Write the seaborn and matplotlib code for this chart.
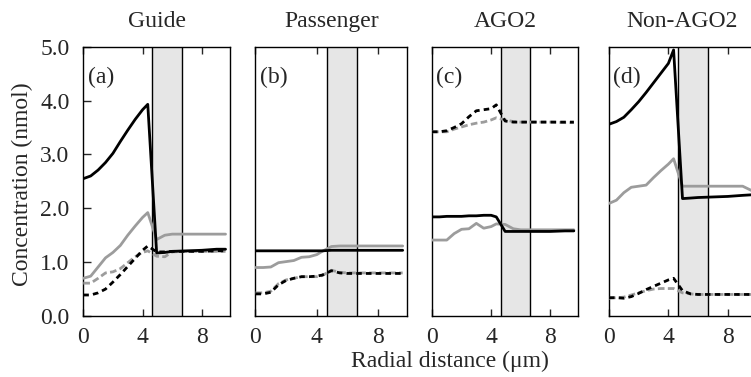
import numpy as np
import pandas as pd
import matplotlib
matplotlib.use("Agg")
import matplotlib.pyplot as plt
import seaborn as sns

# ---- data ----
radial = [0, 0.5, 1.0, 1.5, 2.0, 2.5, 3.0, 3.5, 4.0, 4.35, 4.95, 5.5, 6.0, 7.0, 8.0, 9.0, 9.6]
panel_titles = ["Guide", "Passenger", "AGO2", "Non-AGO2"]
panel_tags = ["(a)", "(b)", "(c)", "(d)"]
x_ticks = [0, 4, 8]
y_ticks = [0.0, 1.0, 2.0, 3.0, 4.0, 5.0]
shade_span = (4.65, 6.65)

guide_black_solid = [2.55, 2.60, 2.71, 2.85, 3.02, 3.24, 3.45, 3.65, 3.83, 3.93, 1.17, 1.18, 1.20, 1.21, 1.22, 1.24, 1.24]
guide_gray_solid = [0.70, 0.74, 0.91, 1.08, 1.18, 1.31, 1.50, 1.67, 1.83, 1.92, 1.42, 1.50, 1.52, 1.52, 1.52, 1.52, 1.52]
guide_black_dash = [0.39, 0.39, 0.43, 0.50, 0.63, 0.77, 0.92, 1.07, 1.22, 1.30, 1.19, 1.19, 1.20, 1.20, 1.20, 1.21, 1.21]
guide_gray_dash = [0.61, 0.61, 0.70, 0.80, 0.82, 0.88, 0.99, 1.10, 1.18, 1.21, 1.11, 1.10, 1.19, 1.20, 1.20, 1.20, 1.20]

pass_black_solid = [1.21, 1.21, 1.21, 1.21, 1.21, 1.21, 1.21, 1.21, 1.21, 1.21, 1.22, 1.22, 1.22, 1.22, 1.22, 1.22, 1.22]
pass_gray_solid = [0.90, 0.90, 0.91, 0.99, 1.01, 1.03, 1.09, 1.10, 1.14, 1.20, 1.29, 1.30, 1.30, 1.30, 1.30, 1.30, 1.30]
pass_black_dash = [0.41, 0.41, 0.44, 0.58, 0.66, 0.70, 0.73, 0.73, 0.74, 0.76, 0.84, 0.80, 0.79, 0.79, 0.79, 0.79, 0.79]
pass_gray_dash = [0.43, 0.43, 0.46, 0.60, 0.67, 0.70, 0.73, 0.73, 0.73, 0.75, 0.85, 0.81, 0.80, 0.80, 0.80, 0.80, 0.80]

ago_black_solid = [1.84, 1.84, 1.85, 1.85, 1.85, 1.86, 1.86, 1.87, 1.87, 1.84, 1.57, 1.57, 1.57, 1.57, 1.57, 1.58, 1.58]
ago_gray_solid = [1.41, 1.41, 1.41, 1.53, 1.61, 1.62, 1.72, 1.63, 1.66, 1.71, 1.70, 1.62, 1.60, 1.60, 1.60, 1.60, 1.60]
ago_black_dash = [3.42, 3.42, 3.44, 3.50, 3.57, 3.70, 3.81, 3.83, 3.85, 3.92, 3.62, 3.60, 3.60, 3.60, 3.60, 3.60, 3.60]
ago_gray_dash = [3.42, 3.42, 3.42, 3.47, 3.51, 3.55, 3.58, 3.60, 3.64, 3.68, 3.64, 3.61, 3.60, 3.60, 3.60, 3.59, 3.59]

non_black_solid = [3.56, 3.61, 3.69, 3.83, 3.98, 4.15, 4.33, 4.51, 4.69, 4.94, 2.18, 2.19, 2.20, 2.21, 2.22, 2.24, 2.25]
non_gray_solid = [2.09, 2.15, 2.29, 2.39, 2.41, 2.43, 2.57, 2.70, 2.82, 2.92, 2.41, 2.41, 2.41, 2.41, 2.41, 2.41, 2.33]
non_black_dash = [0.34, 0.34, 0.33, 0.36, 0.42, 0.49, 0.55, 0.61, 0.67, 0.70, 0.47, 0.41, 0.40, 0.40, 0.40, 0.40, 0.40]
non_gray_dash = [0.33, 0.34, 0.35, 0.39, 0.43, 0.47, 0.50, 0.51, 0.51, 0.51, 0.43, 0.41, 0.40, 0.40, 0.40, 0.40, 0.40]

series_names = ["gray solid", "gray dashed", "black dashed", "black solid"]
panels = [
    [guide_gray_solid, guide_gray_dash, guide_black_dash, guide_black_solid],
    [pass_gray_solid, pass_gray_dash, pass_black_dash, pass_black_solid],
    [ago_gray_solid, ago_gray_dash, ago_black_dash, ago_black_solid],
    [non_gray_solid, non_gray_dash, non_black_dash, non_black_solid],
]

# ---- style ----
sns.set_style("ticks")
plt.rcParams["font.family"] = ["Liberation Serif", "DejaVu Serif"]
FS = 17

gray = "#9c9c9c"
palette = {"gray solid": gray, "gray dashed": gray,
           "black dashed": "black", "black solid": "black"}
dash_map = {"gray solid": "", "gray dashed": (2.4, 1.2),
            "black dashed": (2.0, 1.5), "black solid": ""}

W, H = 751, 377
fig = plt.figure(figsize=(W / 100, H / 100), dpi=100)

ax_px = [(83.3, 230.0), (255.5, 407.3), (432.0, 578.3), (609.0, 756.0)]
top_px, bot_px = 46.7, 316.0

for i, (series_vals, (l, r)) in enumerate(zip(panels, ax_px)):
    ax = fig.add_axes([l / W, 1 - bot_px / H, (r - l) / W, (bot_px - top_px) / H])
    rows = []
    for name, vals in zip(series_names, series_vals):
        for xv, yv in zip(radial, vals):
            rows.append({"r": xv, "c": yv, "series": name})
    df = pd.DataFrame(rows)

    ax.axvspan(*shade_span, facecolor="#e6e6e6", edgecolor="none", zorder=0)
    for xv in shade_span:
        ax.axvline(xv, color="black", lw=1.0, zorder=1)

    sns.lineplot(data=df, x="r", y="c", hue="series", style="series",
                 hue_order=series_names, style_order=series_names,
                 palette=palette, dashes=dash_map, lw=2.0,
                 estimator=None, sort=False, legend=False, ax=ax, zorder=3)

    ax.set_xlim(0, 9.9)
    ax.set_ylim(0, 5)
    ax.set_xticks(x_ticks)
    ax.set_xticklabels([str(t) for t in x_ticks], fontsize=FS)
    ax.set_xlabel("")
    ax.set_ylabel("")
    ax.tick_params(axis="x", direction="in", top=True, bottom=True,
                   length=5, width=1, pad=8)
    if i == 0:
        ax.set_yticks(y_ticks)
        ax.set_yticklabels([f"{t:.1f}" for t in y_ticks], fontsize=FS)
        ax.tick_params(axis="y", direction="in", left=True, right=False,
                       length=5.5, width=1, pad=10)
    else:
        ax.set_yticks([])
        ax.tick_params(axis="y", left=False, labelleft=False)
    for sp in ax.spines.values():
        sp.set_visible(True)
        sp.set_linewidth(1.0)
        sp.set_color("black")
    ax.set_title(panel_titles[i], fontsize=FS, pad=14)
    ax.text(0.03, 0.885, panel_tags[i], transform=ax.transAxes,
            fontsize=FS, ha="left", va="center")

fig.text(22 / W, 1 - 184 / H, "Concentration (nmol)", rotation=90,
         ha="center", va="center", fontsize=FS)
fig.text(450 / W, 1 - 361 / H, "Radial distance (μm)",
         ha="center", va="center", fontsize=FS)

fig.savefig("out.png", dpi=100)
